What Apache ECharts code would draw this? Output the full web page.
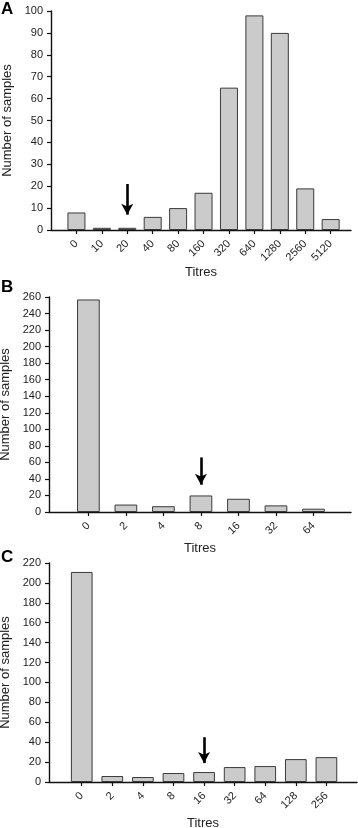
<!DOCTYPE html>
<html>
<head>
<meta charset="utf-8">
<script src="https://cdn.jsdelivr.net/npm/echarts@6/dist/echarts.min.js"></script>
<style>
  html, body { margin: 0; padding: 0; background: #fff; }
  #chart { width: 358px; height: 828px; }
</style>
</head>
<body>
<div id="chart"></div>
<script>
// Panel A
const catsA = ['0', '10', '20', '40', '80', '160', '320', '640', '1280', '2560', '5120'];
const valsA = [8, 1, 1, 6, 10, 17, 65, 98, 90, 19, 5];
const yTicksA = { max: 100, interval: 10 };
const arrowA = { cat: '20', from: 21, to: 7 };
// Panel B
const catsB = ['0', '2', '4', '8', '16', '32', '64'];
const valsB = [257, 9, 7, 20, 16, 8, 4];
const yTicksB = { max: 260, interval: 20 };
const arrowB = { cat: '8', from: 66, to: 33 };
// Panel C
const catsC = ['0', '2', '4', '8', '16', '32', '64', '128', '256'];
const valsC = [211, 6, 5, 9, 10, 15, 16, 23, 25];
const yTicksC = { max: 220, interval: 20 };
const arrowC = { cat: '16', from: 45, to: 19 };

const panelLetters = ['A', 'B', 'C'];
const xName = 'Titres';
const yName = 'Number of samples';

const FONT = '"Liberation Sans", Arial, sans-serif';
const TXT = '#222';

const panels = [
  { cats: catsA, vals: valsA, yt: yTicksA, arrow: arrowA,
    grid: { left: 51, top: 11, height: 219, right: 7 }, xmin: -1, xmax: 10.8, barW: 18, xGap: 35, yGap: 33 },
  { cats: catsB, vals: valsB, yt: yTicksB, arrow: arrowB,
    grid: { left: 49, top: 297, height: 215, right: 7 }, xmin: -1.05, xmax: 7, barW: 22.7, xGap: 30, yGap: 32 },
  { cats: catsC, vals: valsC, yt: yTicksC, arrow: arrowC,
    grid: { left: 49, top: 563, height: 219, right: 1 }, xmin: -1.07, xmax: 9, barW: 21.7, xGap: 34.5, yGap: 32 }
];

const letterTops = [1, 279, 549];

const option = {
  animation: false,
  backgroundColor: '#fff',
  title: panelLetters.map((t, i) => ({
    text: t, left: 1, top: letterTops[i], padding: 0,
    textStyle: { fontFamily: FONT, fontWeight: 'bold', fontSize: 17, color: '#000' }
  })),
  grid: panels.map(p => Object.assign({ containLabel: false, outerBoundsMode: 'none' }, p.grid)),
  xAxis: panels.map((p, i) => ({
    type: 'value', gridIndex: i, min: p.xmin, max: p.xmax,
    name: xName, nameLocation: 'middle', nameGap: p.xGap,
    nameTextStyle: { fontFamily: FONT, fontSize: 13, color: TXT },
    axisLine: { show: true, onZero: false, lineStyle: { color: '#111', width: 1.4 } },
    axisTick: { show: true, length: 4, customValues: p.cats.map((c, k) => k), lineStyle: { color: '#111', width: 1.2 } },
    axisLabel: {
      customValues: p.cats.map((c, k) => k),
      formatter: v => p.cats[Math.round(v)],
      rotate: 45, margin: 12, fontFamily: FONT, fontSize: 11, color: TXT
    },
    splitLine: { show: false }
  })),
  yAxis: panels.map((p, i) => ({
    type: 'value', gridIndex: i, min: 0, max: p.yt.max, interval: p.yt.interval,
    name: yName, nameLocation: 'middle', nameGap: p.yGap,
    nameTextStyle: { fontFamily: FONT, fontSize: 13, color: TXT },
    axisLine: { show: true, onZero: false, lineStyle: { color: '#111', width: 1.4 } },
    axisTick: { show: true, length: 4, lineStyle: { color: '#111', width: 1.2 } },
    axisLabel: { margin: 8, fontFamily: FONT, fontSize: 11, color: TXT },
    splitLine: { show: false }
  })),
  series: panels.map((p, i) => {
    const ai = p.cats.indexOf(p.arrow.cat);
    return {
      type: 'bar', xAxisIndex: i, yAxisIndex: i,
      barWidth: p.barW,
      data: p.vals.map((v, k) => [k, v]),
      itemStyle: { color: '#cbcbcb', borderColor: '#3a3a3a', borderWidth: 1 },
      markLine: {
        silent: true,
        symbol: ['none', 'arrow'],
        symbolSize: [9, 11],
        label: { show: false },
        lineStyle: { color: '#000', width: 2.6, type: 'solid' },
        data: [[{ coord: [ai, p.arrow.from] }, { coord: [ai, p.arrow.to] }]]
      }
    };
  })
};

const chart = echarts.init(document.getElementById('chart'), null, { renderer: 'canvas' });
chart.setOption(option);
</script>
</body>
</html>
